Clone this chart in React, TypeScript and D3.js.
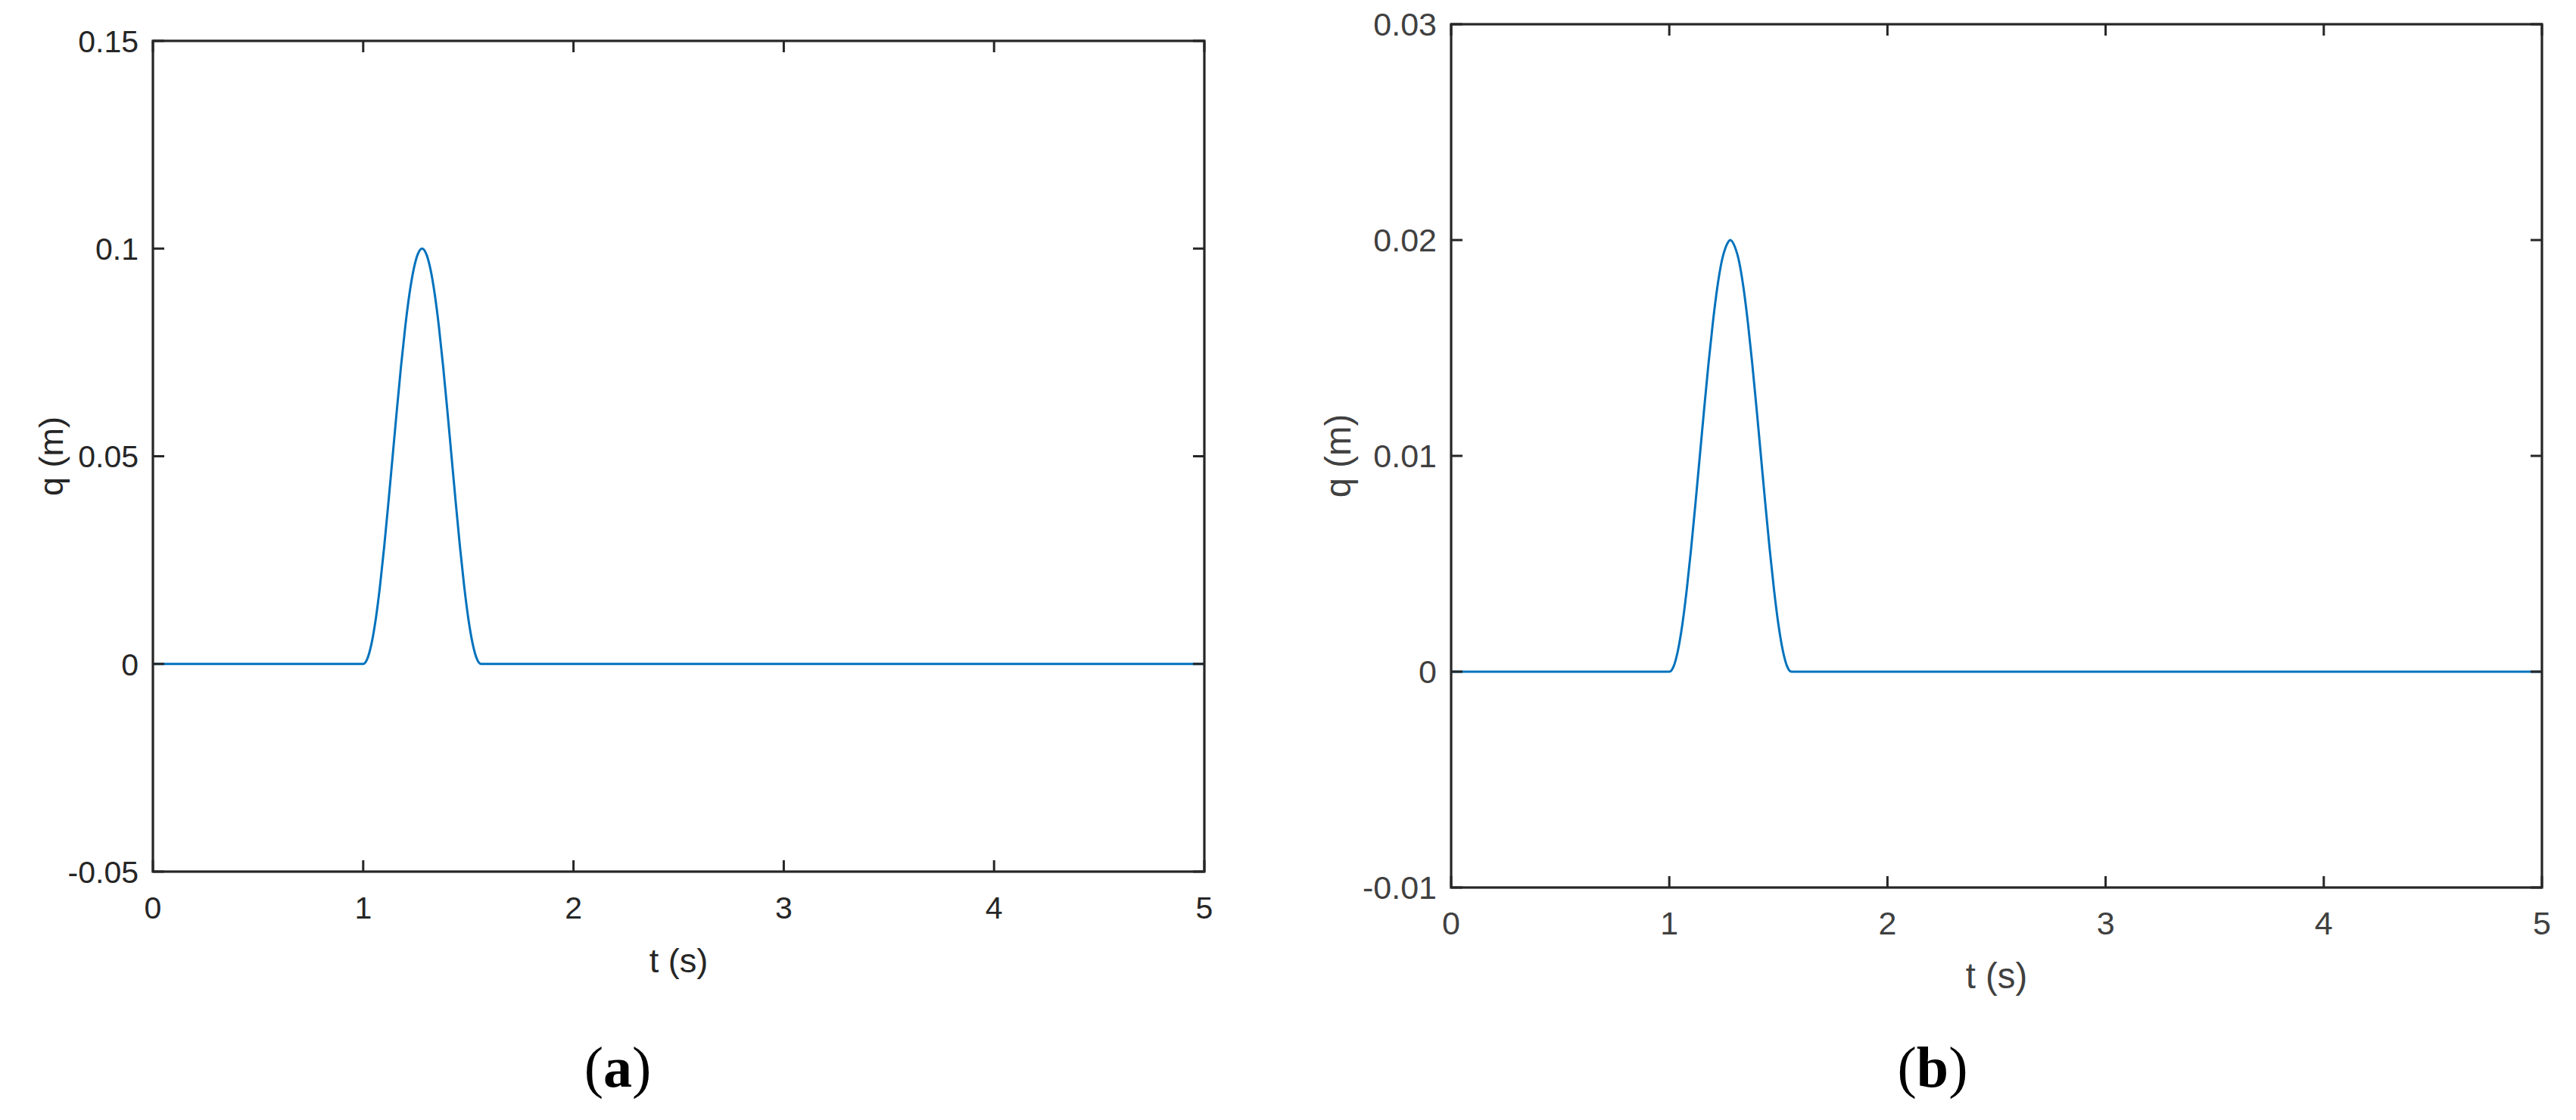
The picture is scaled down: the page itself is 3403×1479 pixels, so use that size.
import React from 'react';
import * as d3 from 'd3';

// time samples (s)
const time = [
  0, 1.0, 1.02, 1.04, 1.06, 1.08, 1.1, 1.12, 1.14, 1.16, 1.18, 1.2, 1.22, 1.24, 1.26, 1.28,
  1.3, 1.32, 1.34, 1.36, 1.38, 1.4, 1.42, 1.44, 1.46, 1.48, 1.5, 1.52, 1.54, 1.56, 5,
];

// panel (a) displacement q (m)
const qA = [
  0, 0, 0.0013, 0.005, 0.0109, 0.0188, 0.0283, 0.0389, 0.05, 0.0611, 0.0717, 0.0812, 0.0891,
  0.095, 0.0987, 0.1, 0.0987, 0.095, 0.0891, 0.0812, 0.0717, 0.0611, 0.05, 0.0389, 0.0283,
  0.0188, 0.0109, 0.005, 0.0013, 0, 0,
];

// panel (b) displacement q (m)
const qB = [
  0, 0, 0.00025, 0.001, 0.0022, 0.0038, 0.0057, 0.0078, 0.01, 0.0122, 0.0143, 0.0162, 0.0178,
  0.019, 0.0197, 0.02, 0.0197, 0.019, 0.0178, 0.0162, 0.0143, 0.0122, 0.01, 0.0078, 0.0057,
  0.0038, 0.0022, 0.001, 0.00025, 0, 0,
];

const xTicks = [0, 1, 2, 3, 4, 5];
const yTicksA = [-0.05, 0, 0.05, 0.1, 0.15];
const yLabelsA = ['-0.05', '0', '0.05', '0.1', '0.15'];
const yTicksB = [-0.01, 0, 0.01, 0.02, 0.03];
const yLabelsB = ['-0.01', '0', '0.01', '0.02', '0.03'];

type PanelProps = {
  left: number;
  right: number;
  top: number;
  bottom: number;
  values: number[];
  yTicks: number[];
  yLabels: string[];
  textColor: string;
  tickFont: number;
  yLabelOffset: number;
  caption: string;
  captionX: number;
};

const Panel = ({
  left, right, top, bottom, values, yTicks, yLabels, textColor, tickFont, yLabelOffset, caption, captionX,
}: PanelProps) => {
  const x = d3.scaleLinear().domain([0, 5]).range([left, right]);
  const y = d3.scaleLinear().domain([yTicks[0], yTicks[yTicks.length - 1]]).range([bottom, top]);
  const line = d3
    .line<number>()
    .x((d, i) => x(time[i]))
    .y(d => y(d))
    .curve(d3.curveMonotoneX);
  const tick = 15;
  const axisColor = '#262626';
  const font = '"Liberation Sans", Arial, sans-serif';

  return (
    <g>
      <path d={line(values) || ''} fill="none" stroke="#0072BD" strokeWidth={3} />
      {xTicks.map(t => (
        <g key={'x' + t}>
          <line x1={x(t)} x2={x(t)} y1={bottom} y2={bottom - tick} stroke={axisColor} strokeWidth={3} />
          <line x1={x(t)} x2={x(t)} y1={top} y2={top + tick} stroke={axisColor} strokeWidth={3} />
          <text x={x(t)} y={bottom + 62} textAnchor="middle" fontFamily={font} fontSize={tickFont} fill={textColor}>
            {t}
          </text>
        </g>
      ))}
      {yTicks.map((v, i) => (
        <g key={'y' + i}>
          <line x1={left} x2={left + tick} y1={y(v)} y2={y(v)} stroke={axisColor} strokeWidth={3} />
          <line x1={right} x2={right - tick} y1={y(v)} y2={y(v)} stroke={axisColor} strokeWidth={3} />
          <text
            x={left - 19}
            y={y(v)}
            dy="0.36em"
            textAnchor="end"
            fontFamily={font}
            fontSize={tickFont}
            fill={textColor}
          >
            {yLabels[i]}
          </text>
        </g>
      ))}
      <rect
        x={left}
        y={top}
        width={right - left}
        height={bottom - top}
        fill="none"
        stroke={axisColor}
        strokeWidth={3.2}
      />
      <text
        x={(left + right) / 2}
        y={bottom + 133}
        textAnchor="middle"
        fontFamily={font}
        fontSize={tickFont * 1.1}
        fill={textColor}
      >
        t (s)
      </text>
      <text
        transform={`translate(${left - yLabelOffset}, ${(top + bottom) / 2}) rotate(-90)`}
        dy="0.3em"
        textAnchor="middle"
        fontFamily={font}
        fontSize={tickFont * 1.1}
        fill={textColor}
      >
        q (m)
      </text>
      <text
        x={captionX}
        y={1435}
        textAnchor="middle"
        fontFamily='"Liberation Serif", "Times New Roman", serif'
        fontSize={76}
        fill="#000"
      >
        (<tspan fontWeight="bold">{caption}</tspan>)
      </text>
    </g>
  );
};

const App = () => {
  return (
    <svg
      width={3403}
      height={1479}
      style={{ position: 'absolute', left: 0, top: 0, background: '#fff' }}
    >
      <rect width={3403} height={1479} fill="#fff" />
      <Panel
        left={202}
        right={1591}
        top={54}
        bottom={1151}
        values={qA}
        yTicks={yTicksA}
        yLabels={yLabelsA}
        textColor="#262626"
        tickFont={41}
        yLabelOffset={133}
        caption="a"
        captionX={816}
      />
      <Panel
        left={1917}
        right={3358}
        top={32}
        bottom={1172}
        values={qB}
        yTicks={yTicksB}
        yLabels={yLabelsB}
        textColor="#404040"
        tickFont={43}
        yLabelOffset={147}
        caption="b"
        captionX={2553}
      />
    </svg>
  );
};

export default App;
